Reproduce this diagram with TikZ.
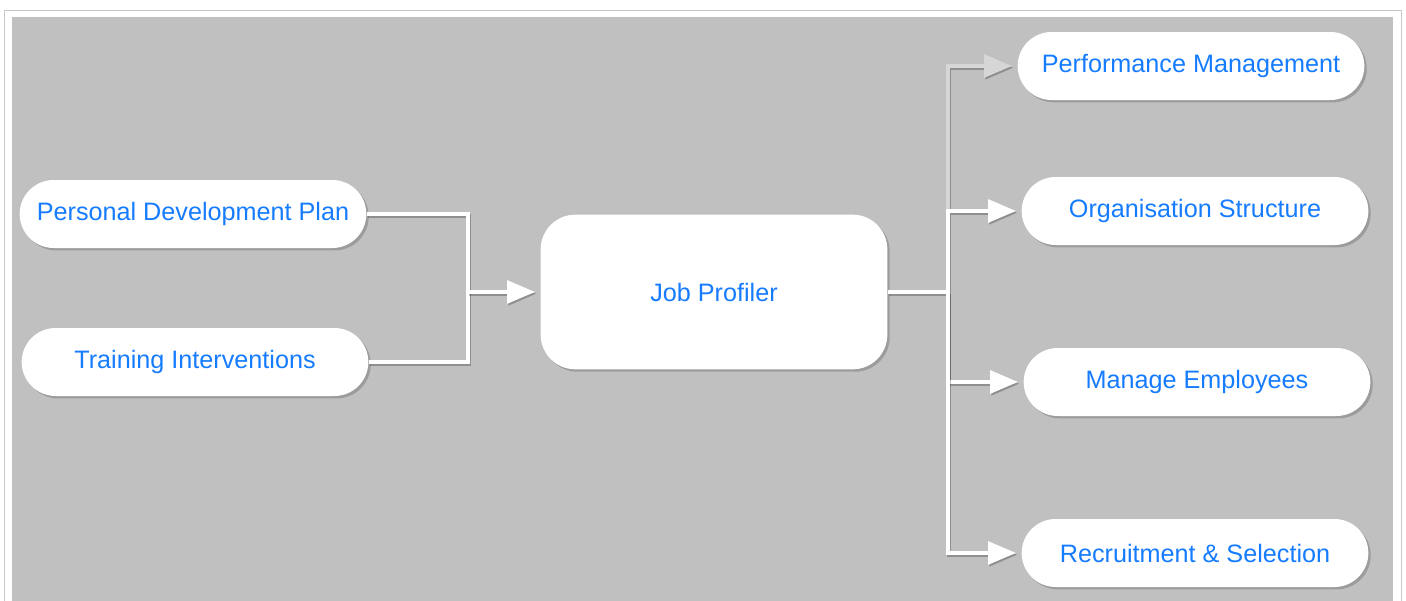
\documentclass[tikz,border=0pt]{standalone}
\usepackage{fontspec}
\setmainfont{Liberation Sans}
\usepackage{tikz}
\usetikzlibrary{arrows.meta,positioning,shadows}
\definecolor{bluetext}{RGB}{22,124,255}
\definecolor{panel}{RGB}{192,192,192}
\definecolor{framegray}{RGB}{200,200,200}
\definecolor{faintline}{RGB}{214,214,214}
\tikzset{
  pill/.style={fill=white,rounded corners=25.5pt,minimum width=260pt,minimum height=51pt,text=bluetext,
    font=\fontsize{18.9}{22}\selectfont,drop shadow={shadow xshift=1.8pt,shadow yshift=-1.8pt,opacity=0.55}},
  wire/.style={draw=white,line width=3pt,
    preaction={draw=black,line width=3pt,opacity=0.25,transform canvas={shift={(0.9pt,-1.3pt)}}}},
  arr/.style={wire,-{Triangle[length=21pt,width=17pt]},shorten >=4pt},
  faint/.style={draw=faintline}
}
\begin{document}
\begin{tikzpicture}[x=0.75pt,y=-0.75pt]
  \useasboundingbox (0,0) rectangle (1406,600);
  \fill[white] (0,0) rectangle (1406,600);
  \draw[framegray,line width=1.1pt] (4.5,10.5) rectangle (1401.5,640);
  \fill[panel] (12,17) rectangle (1393,640);
  \node[pill] (pdp) at (193,214) {Personal Development Plan};
  \node[pill] (train) at (195,362) {Training Interventions};
  \node[pill,rounded corners=26pt,minimum height=116pt] (job) at (714,292) {Job Profiler};
  \node[pill] (perf) at (1191,66) {Performance Management};
  \node[pill] (org) at (1195,211) {Organisation Structure};
  \node[pill] (manage) at (1197,382) {Manage Employees};
  \node[pill] (recruit) at (1195,553) {Recruitment \& Selection};
  \coordinate (lj) at (468,292);\coordinate (rj) at (948,292);
  \draw[wire] (pdp.east) -| (lj) |- (train.east);
  \draw[arr] (lj) -- (job.west);
  \draw[wire] (job.east) -- (rj);
  \draw[arr,faint] (rj|-org.west) |- (perf.west);
  \foreach \n in {org,manage,recruit}{\draw[arr] (rj) |- (\n.west);}
\end{tikzpicture}
\end{document}
